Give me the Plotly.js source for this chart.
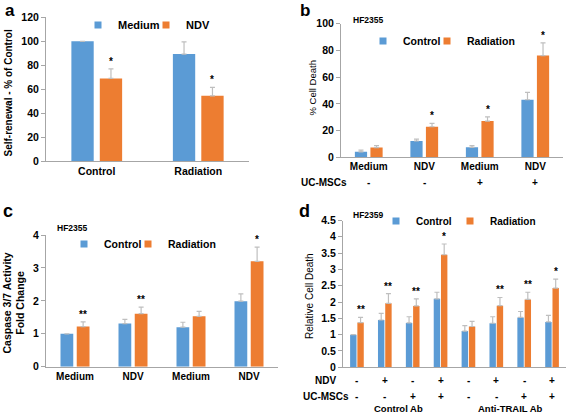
<!DOCTYPE html>
<html><head><meta charset="utf-8">
<script src="https://cdn.plot.ly/plotly-3.0.1.min.js"></script>
<style>html,body{margin:0;padding:0;background:#fff}#chart{width:567px;height:415px}</style>
</head><body><div id="chart"></div>
<script>
// ---------- Panel a ----------
const aCategories = ['Control', 'Radiation'];
const aMedium = [99.7, 89.1];
const aMediumErr = [0, 10.2];
const aNDV = [68.8, 54.3];
const aNDVErr = [8.0, 7.0];
const aNDVSig = ['*', '*'];

// ---------- Panel b ----------
const bCategories = ['Medium', 'NDV', 'Medium', 'NDV'];
const bUCMSCs = ['-', '-', '+', '+'];
const bControl = [4.1, 12.2, 7.5, 43.1];
const bControlErr = [1.2, 1.4, 1.3, 5.5];
const bRadiation = [7.3, 22.9, 27.1, 76.2];
const bRadiationErr = [1.5, 2.5, 3.2, 9.5];
const bRadiationSig = ['', '*', '*', '*'];

// ---------- Panel c ----------
const cCategories = ['Medium', 'NDV', 'Medium', 'NDV'];
const cControl = [1.0, 1.31, 1.2, 1.99];
const cControlErr = [0, 0.13, 0.15, 0.22];
const cRadiation = [1.22, 1.61, 1.53, 3.2];
const cRadiationErr = [0.14, 0.2, 0.15, 0.43];
const cRadiationSig = ['**', '**', '', '*'];

// ---------- Panel d ----------
const dNDV = ['-', '+', '-', '+', '-', '+', '-', '+'];
const dUCMSCs = ['-', '-', '+', '+', '-', '-', '+', '+'];
const dGroups = ['Control Ab', 'Anti-TRAIL Ab'];
const dControl = [1.0, 1.45, 1.36, 2.1, 1.11, 1.35, 1.53, 1.39];
const dControlErr = [0, 0.2, 0.19, 0.2, 0.17, 0.2, 0.18, 0.2];
const dRadiation = [1.37, 1.96, 1.88, 3.45, 1.25, 1.89, 2.08, 2.43];
const dRadiationErr = [0.16, 0.3, 0.22, 0.33, 0.16, 0.25, 0.22, 0.27];
const dRadiationSig = ['**', '**', '**', '*', '', '**', '**', '*'];

// ---------- styling ----------
const W = 567, H = 415;
const px = v => v / W;
const py = v => 1 - v / H;
const BLUE = '#5B9BD5', ORANGE = '#ED7D31';
const FONT = 'Liberation Sans, Arial, sans-serif';
const AXIS_GRAY = '#A6A6A6', ERR_GRAY = '#BFBFBF';

function bars(name, vals, errs, n, color, offset, width) {
  const sfx = n > 1 ? String(n) : '';
  return {
    type: 'bar', name: name, showlegend: false,
    x: vals.map((_, i) => i), y: vals,
    xaxis: 'x' + sfx, yaxis: 'y' + sfx,
    offset: offset, width: width,
    marker: {color: color, line: {width: 0}},
    error_y: {type: 'data', symmetric: false, array: errs, arrayminus: errs.map(() => 0),
              color: ERR_GRAY, thickness: 1.2, width: 2.5},
    hoverinfo: 'skip'
  };
}
// legend entry (small square key, like the original's legend)
function key(name, n, color, legendId) {
  const sfx = n > 1 ? String(n) : '';
  return {type: 'scatter', mode: 'markers', name: name, x: [null], y: [null],
    xaxis: 'x' + sfx, yaxis: 'y' + sfx,
    marker: {symbol: 'square', size: 7, color: color, line: {width: 0}},
    legend: legendId, showlegend: true, hoverinfo: 'skip'};
}

const G = {w: 0.22, blue: -0.25, orange: 0.03};
const GD = {w: 0.23, blue: -0.245, orange: 0.015};

const data = [
  bars('Medium', aMedium, aMediumErr, 1, BLUE, G.blue, G.w),
  bars('NDV', aNDV, aNDVErr, 1, ORANGE, G.orange, G.w),
  bars('Control', bControl, bControlErr, 2, BLUE, G.blue, G.w),
  bars('Radiation', bRadiation, bRadiationErr, 2, ORANGE, G.orange, G.w),
  bars('Control', cControl, cControlErr, 3, BLUE, G.blue, G.w),
  bars('Radiation', cRadiation, cRadiationErr, 3, ORANGE, G.orange, G.w),
  bars('Control', dControl, dControlErr, 4, BLUE, GD.blue, GD.w),
  bars('Radiation', dRadiation, dRadiationErr, 4, ORANGE, GD.orange, GD.w),
  key('Medium', 1, BLUE, 'legend'),
  key('NDV', 1, ORANGE, 'legend2'),
  key('Control', 2, BLUE, 'legend3'),
  key('Radiation', 2, ORANGE, 'legend4'),
  key('Control', 3, BLUE, 'legend5'),
  key('Radiation', 3, ORANGE, 'legend6'),
  key('Control', 4, BLUE, 'legend7'),
  key('Radiation', 4, ORANGE, 'legend8')
];

function yax(domTop, domBot, range, dtick, n) {
  return {domain: [py(domBot), py(domTop)], range: range, dtick: dtick, tick0: 0,
    anchor: 'x' + (n > 1 ? n : ''), showline: true, linecolor: AXIS_GRAY, linewidth: 1,
    ticks: 'outside', ticklen: 4, tickcolor: AXIS_GRAY, tickwidth: 1,
    showgrid: false, zeroline: false, fixedrange: true,
    tickfont: {family: FONT, size: 10.5, color: '#000', weight: 700}};
}
function xax(left, right, cats, n, showLabels, fs) {
  return {domain: [px(left), px(right)], range: [-0.5, cats.length - 0.5],
    anchor: 'y' + (n > 1 ? n : ''), tickvals: cats.map((_, i) => i), ticktext: cats,
    showticklabels: showLabels, ticks: '', showline: true, linecolor: AXIS_GRAY, linewidth: 1,
    showgrid: false, zeroline: false, fixedrange: true,
    tickfont: {family: FONT, size: fs, color: '#000', weight: 700}};
}
function legendAt(textX, centerY, size) {
  return {x: px(textX - 40), y: py(centerY), xanchor: 'left', yanchor: 'middle',
    orientation: 'h', bgcolor: 'rgba(0,0,0,0)', borderwidth: 0,
    font: {family: FONT, size: size, color: '#000', weight: 700}};
}

const ann = [];
function txt(x, y, text, size, opts) {
  ann.push(Object.assign({xref: 'paper', yref: 'paper', x: px(x), y: py(y), text: text,
    showarrow: false, xanchor: 'center', yanchor: 'middle',
    font: {family: FONT, size: size, color: '#000', weight: 700}}, opts || {}));
}
function sigMarks(sigs, vals, errs, n, off, w) {
  const sfx = n > 1 ? String(n) : '';
  sigs.forEach((s, i) => {
    if (!s) return;
    ann.push({xref: 'x' + sfx, yref: 'y' + sfx, x: i + off + w / 2, y: vals[i] + errs[i],
      text: s, showarrow: false, xanchor: 'center', yanchor: 'bottom', yshift: 0,
      font: {family: FONT, size: 10, color: '#000', weight: 700}});
  });
}
function rowMarks(signs, n, yPix, size) {
  signs.forEach((s, i) => {
    ann.push({xref: 'x' + n, yref: 'paper', x: i, y: py(yPix), text: s, showarrow: false,
      xanchor: 'center', yanchor: 'middle', font: {family: FONT, size: size, color: '#000', weight: 700}});
  });
}

// panel letters
txt(10, 0, 'a', 17, {yanchor: 'top', borderpad: 0});
txt(304.5, 0, 'b', 17, {yanchor: 'top', borderpad: 0});
txt(7.5, 211.5, 'c', 18);
txt(304.5, 211.5, 'd', 18);
// cell line labels
txt(351, 20, 'HF2355', 8.5, {xanchor: 'left'});
txt(55, 228, 'HF2355', 8.5, {xanchor: 'left'});
txt(351, 215, 'HF2359', 8.5, {xanchor: 'left'});
// y titles
txt(7.5, 93, 'Self-renewal - % of Control', 10, {textangle: -90});
txt(311.5, 88, '% Cell Death', 9.5, {textangle: -90, font: {family: FONT, size: 9.5, color: '#000'}});
txt(13.5, 303, 'Caspase 3/7 Activity<br>Fold Change', 10.5, {textangle: -90});
txt(309, 296, 'Relative Cell Death', 10, {textangle: -90, font: {family: FONT, size: 10, color: '#000'}});
// significance
sigMarks(aNDVSig, aNDV, aNDVErr, 1, G.orange, G.w);
sigMarks(bRadiationSig, bRadiation, bRadiationErr, 2, G.orange, G.w);
sigMarks(cRadiationSig, cRadiation, cRadiationErr, 3, G.orange, G.w);
sigMarks(dRadiationSig, dRadiation, dRadiationErr, 4, GD.orange, GD.w);
// panel b extra row
txt(324, 182, 'UC-MSCs', 10);
rowMarks(bUCMSCs, 2, 182, 10);
// panel d rows
txt(325.5, 380, 'NDV', 10);
txt(325.5, 396, 'UC-MSCs', 10);
rowMarks(dNDV, 4, 380, 10);
rowMarks(dUCMSCs, 4, 396, 10);
dGroups.forEach((g, k) => {
  ann.push({xref: 'x4', yref: 'paper', x: k * 4 + 1.5, y: 0, text: g, showarrow: false,
    xanchor: 'center', yanchor: 'bottom', borderpad: 0,
    font: {family: FONT, size: 9.5, color: '#000', weight: 700}});
});

const layout = {
  width: W, height: H, margin: {l: 0, r: 0, t: 0, b: 0},
  paper_bgcolor: '#fff', plot_bgcolor: 'rgba(0,0,0,0)',
  barmode: 'overlay', showlegend: true,
  font: {family: FONT, color: '#000'},
  xaxis: xax(46, 249, aCategories, 1, true, 10.5),
  yaxis: yax(17, 161, [0, 120], 20, 1),
  xaxis2: xax(341, 563, bCategories, 2, true, 10),
  yaxis2: yax(23.8, 157.3, [0, 100], 20, 2),
  xaxis3: xax(46, 278, cCategories, 3, true, 10),
  yaxis3: yax(235, 366.7, [0, 4], 1, 3),
  xaxis4: xax(343, 566, dNDV, 4, false, 10),
  yaxis4: yax(220.5, 367.3, [0, 4.5], 0.5, 4),
  legend: legendAt(118, 25, 11),
  legend2: legendAt(186, 25, 11),
  legend3: legendAt(403, 41, 10.5),
  legend4: legendAt(467, 41, 10.5),
  legend5: legendAt(104, 244, 10.5),
  legend6: legendAt(168, 244, 10.5),
  legend7: legendAt(416, 221, 10),
  legend8: legendAt(490, 221, 10),
  annotations: ann
};

Plotly.newPlot('chart', data, layout, {staticPlot: true, displayModeBar: false});
</script>
</body></html>
